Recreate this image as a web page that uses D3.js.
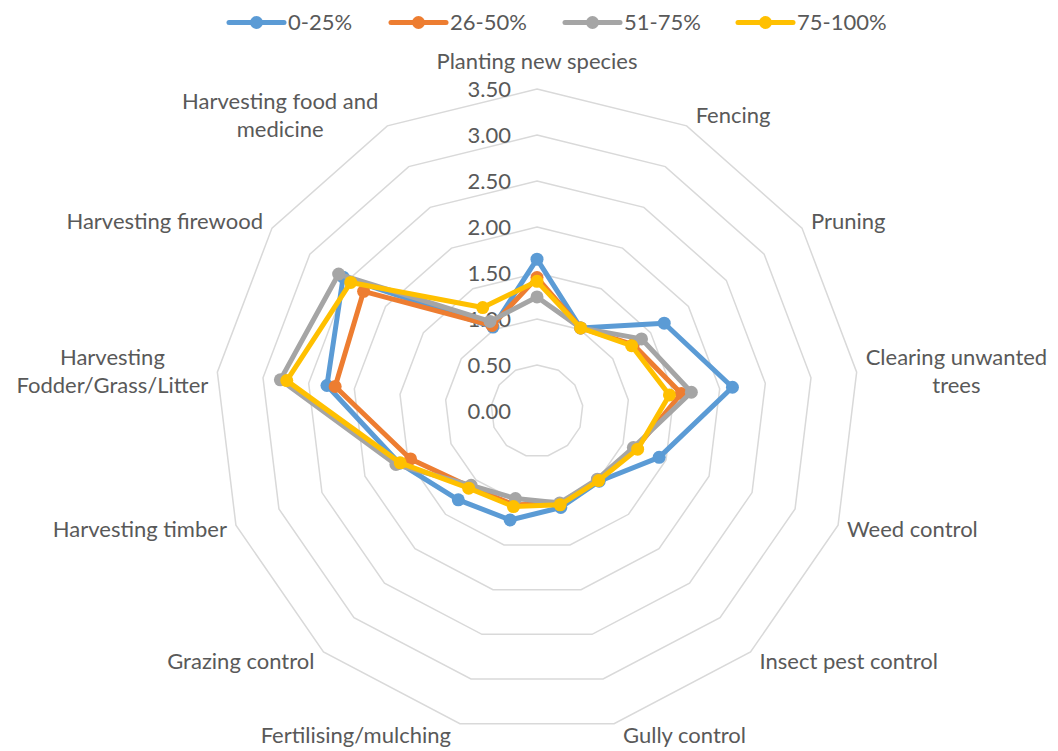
<!DOCTYPE html>
<html>
<head>
<meta charset="utf-8">
<script src="https://cdn.jsdelivr.net/npm/d3@7"></script>
<style>
  html, body { margin: 0; padding: 0; background: #fff; }
  svg text { font-family: Lato, "Open Sans", "Liberation Sans", sans-serif; fill: #595959; }
</style>
</head>
<body>
<svg id="chart" width="1058" height="751"></svg>
<script>
// Activity categories around the radar, clockwise from the top
const categories = [
  "Planting new species",
  "Fencing",
  "Pruning",
  "Clearing unwanted\ntrees",
  "Weed control",
  "Insect pest control",
  "Gully control",
  "Fertilising/mulching",
  "Grazing control",
  "Harvesting timber",
  "Harvesting\nFodder/Grass/Litter",
  "Harvesting firewood",
  "Harvesting food and\nmedicine"
];

// Mean scores per group
const seriesNames = ["0-25%", "26-50%", "51-75%", "75-100%"];
const values0to25   = [1.65, 1.02, 1.68, 2.14, 1.42, 1.02, 1.08, 1.22, 1.29, 1.60, 2.30, 2.56, 1.03];
const values26to50  = [1.45, 1.02, 1.27, 1.58, 1.15, 1.00, 1.04, 1.05, 1.10, 1.47, 2.21, 2.29, 1.05];
const values51to75  = [1.24, 1.02, 1.38, 1.69, 1.12, 0.99, 1.03, 0.98, 1.08, 1.64, 2.81, 2.62, 1.10];
const values75to100 = [1.41, 1.02, 1.25, 1.45, 1.17, 1.01, 1.05, 1.07, 1.12, 1.59, 2.74, 2.46, 1.27];
const seriesValues = [values0to25, values26to50, values51to75, values75to100];
const seriesColors = ["#5B9BD5", "#ED7D31", "#A5A5A5", "#FFC000"];

// Radial axis ticks
const tickValues = [0, 0.5, 1, 1.5, 2, 2.5, 3, 3.5];
const tickLabels = ["0.00", "0.50", "1.00", "1.50", "2.00", "2.50", "3.00", "3.50"];

const svg = d3.select("#chart");
const cx = 537, cy = 411, outerR = 322;
const fontSize = 22;
const lineW = 5, markerR = 6.5;

const r = d3.scaleLinear().domain([0, 3.5]).range([0, outerR]);
const angle = d3.scaleLinear().domain([0, categories.length]).range([0, 2 * Math.PI]);

const pt = (i, v) => [cx + r(v) * Math.sin(angle(i)), cy - r(v) * Math.cos(angle(i))];

// Gridline polygons
const grid = svg.append("g");
tickValues.filter(t => t > 0).forEach(t => {
  grid.append("polygon")
    .attr("points", categories.map((c, i) => pt(i, t).join(",")).join(" "))
    .attr("fill", "none")
    .attr("stroke", "#D9D9D9")
    .attr("stroke-width", 1.5);
});

// Radial tick labels, to the left of the top spoke
svg.append("g").selectAll("text")
  .data(tickValues)
  .join("text")
  .attr("x", cx - 26)
  .attr("y", d => cy - r(d))
  .attr("dy", "0.36em")
  .attr("text-anchor", "end")
  .attr("font-size", fontSize)
  .text((d, i) => tickLabels[i]);

// Category labels outside the outer ring
const catG = svg.append("g");
categories.forEach((c, i) => {
  const a = angle(i);
  const s = Math.sin(a), co = Math.cos(a);
  const [vx, vy] = pt(i, 3.5);
  let anchor, x, yc;
  if (Math.abs(s) < 0.01) {
    anchor = "middle"; x = vx; yc = vy - 28;
  } else {
    anchor = s > 0 ? "start" : "end";
    x = vx + (s > 0 ? 9 : -9);
    yc = vy - 12 * co;
  }
  const lines = c.split("\n");
  const lh = 28;
  const t = catG.append("text")
    .attr("text-anchor", "middle")
    .attr("font-size", fontSize);
  lines.forEach((ln, k) => {
    t.append("tspan")
      .attr("x", 0)
      .attr("y", yc + (k - (lines.length - 1) / 2) * lh)
      .attr("dy", "0.36em")
      .text(ln);
  });
  // multi-line labels are centred within their own block
  const w = t.node().getBBox().width;
  let center;
  if (anchor === "middle") center = x;
  else if (anchor === "start") center = x + w / 2;
  else center = x - w / 2;
  t.selectAll("tspan").attr("x", center);
});

// Series lines and markers
const line = d3.line();
seriesValues.forEach((vals, si) => {
  const pts = vals.map((v, i) => pt(i, v));
  const g = svg.append("g");
  g.append("path")
    .attr("d", line(pts) + "Z")
    .attr("fill", "none")
    .attr("stroke", seriesColors[si])
    .attr("stroke-width", lineW)
    .attr("stroke-linejoin", "round");
  g.selectAll("circle")
    .data(pts)
    .join("circle")
    .attr("cx", d => d[0])
    .attr("cy", d => d[1])
    .attr("r", markerR)
    .attr("fill", seriesColors[si]);
});

// Legend across the top
const legendX = [229, 391, 565, 738];
const legendY = 22.5;
const lg = svg.append("g");
seriesNames.forEach((name, si) => {
  const x0 = legendX[si];
  lg.append("line")
    .attr("x1", x0).attr("x2", x0 + 55)
    .attr("y1", legendY).attr("y2", legendY)
    .attr("stroke", seriesColors[si])
    .attr("stroke-width", lineW)
    .attr("stroke-linecap", "round");
  lg.append("circle")
    .attr("cx", x0 + 27.5).attr("cy", legendY)
    .attr("r", markerR)
    .attr("fill", seriesColors[si]);
  lg.append("text")
    .attr("x", x0 + 59)
    .attr("y", legendY)
    .attr("dy", "0.36em")
    .attr("font-size", fontSize)
    .text(name);
});
</script>
</body>
</html>
